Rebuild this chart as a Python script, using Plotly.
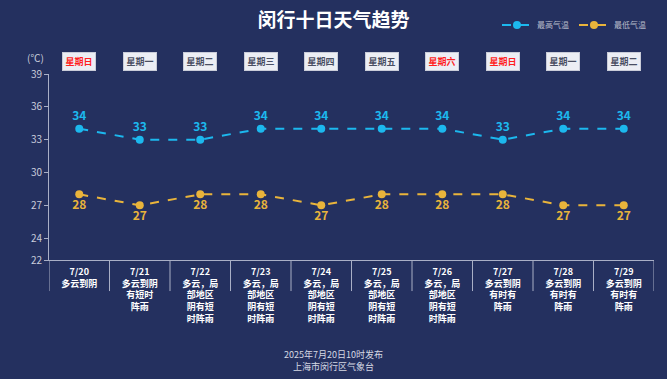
import plotly.graph_objects as go

dates = ["7/20", "7/21", "7/22", "7/23", "7/24", "7/25", "7/26", "7/27", "7/28", "7/29"]
weekdays = ["星期日", "星期一", "星期二", "星期三", "星期四", "星期五", "星期六", "星期日", "星期一", "星期二"]
weather_lines = [
    ["多云到阴"],
    ["多云到阴", "有短时", "阵雨"],
    ["多云，局", "部地区", "阴有短", "时阵雨"],
    ["多云，局", "部地区", "阴有短", "时阵雨"],
    ["多云，局", "部地区", "阴有短", "时阵雨"],
    ["多云，局", "部地区", "阴有短", "时阵雨"],
    ["多云，局", "部地区", "阴有短", "时阵雨"],
    ["多云到阴", "有时有", "阵雨"],
    ["多云到阴", "有时有", "阵雨"],
    ["多云到阴", "有时有", "阵雨"],
]
high = [34, 33, 33, 34, 34, 34, 34, 33, 34, 34]
low = [28, 27, 28, 28, 27, 28, 28, 28, 27, 27]
y_ticks = [22, 24, 27, 30, 33, 36, 39]

BG = "#24305f"
BLUE = "#1cb8ee"
GOLD = "#e9b43b"
AXIS = "#a9afc6"

xs = list(range(len(dates)))
ticktext = ["<b>" + "<br>".join([d] + w) + "</b>" for d, w in zip(dates, weather_lines)]

fig = go.Figure()
fig.add_trace(go.Scatter(
    x=xs, y=high, mode="lines+markers+text", name="最高气温",
    line=dict(color=BLUE, width=2, dash="dash"),
    marker=dict(color=BLUE, size=8),
    text=[f"<b>{v}</b>" for v in high], textposition="top center",
    textfont=dict(color=BLUE, size=12),
))
fig.add_trace(go.Scatter(
    x=xs, y=low, mode="lines+markers+text", name="最低气温",
    line=dict(color=GOLD, width=2, dash="dash"),
    marker=dict(color=GOLD, size=8),
    text=[f"<b>{v}</b>" for v in low], textposition="bottom center",
    textfont=dict(color=GOLD, size=12),
))

# category boundary ticks
for b in [i - 0.5 for i in range(len(dates) + 1)]:
    fig.add_shape(type="line", xref="x", yref="paper", x0=b, x1=b, y0=0, y1=-0.167,
                  line=dict(color=AXIS, width=1))

# weekday boxes
for i, wd in enumerate(weekdays):
    red = wd in ("星期日", "星期六")
    fig.add_annotation(
        x=i, xref="x", y=1.065, yref="paper", yanchor="middle",
        text=f"<b>{wd}</b>", showarrow=False, width=30, height=15,
        font=dict(size=9, color="#ff1e1e" if red else "#4a4f63"),
        bgcolor="#eceef4", bordercolor="#c9ccd8", borderwidth=1, borderpad=1,
    )

fig.add_annotation(x=-0.005, xref="paper", y=1.091, yref="paper", text="(℃)", showarrow=False,
                   xanchor="right", yanchor="middle", font=dict(size=10, color="#c9cddb"))

fig.add_annotation(x=0.47, xref="paper", y=-0.539, yref="paper",
                   text="2025年7月20日10时发布<br>上海市闵行区气象台", showarrow=False,
                   xanchor="center", yanchor="middle", font=dict(size=9, color="#d5d8e3"))

fig.update_layout(
    width=667, height=379,
    paper_bgcolor=BG, plot_bgcolor=BG,
    margin=dict(l=49, r=13, t=74, b=119, autoexpand=False),
    font=dict(family="Noto Sans CJK SC, sans-serif", color="#ffffff"),
    title=dict(text="<b>闵行十日天气趋势</b>", x=0.5, xanchor="center", y=0.947, yanchor="middle",
               font=dict(size=19, color="#ffffff")),
    showlegend=True,
    legend=dict(orientation="h", x=0.995, xanchor="right", y=1.263, yanchor="middle",
                font=dict(size=8, color="#b9bdcc"), bgcolor="rgba(0,0,0,0)",
                itemwidth=30, tracegroupgap=0),
    xaxis=dict(range=[-0.5, len(dates) - 0.5], tickvals=xs, ticktext=ticktext,
               showgrid=False, zeroline=False, showline=True, linecolor=AXIS, linewidth=1,
               ticks="", ticklabelstandoff=3, automargin=False,
               tickfont=dict(size=9, color="#ffffff"), fixedrange=True),
    yaxis=dict(range=[22, 39], tickvals=y_ticks, showgrid=False, zeroline=False,
               showline=True, linecolor=AXIS, linewidth=1, ticks="outside", ticklen=4,
               tickcolor=AXIS, automargin=False, tickfont=dict(size=10, color="#c9cddb")),
)

fig.write_html("out.html", config={"displayModeBar": False},
               post_script="document.body.style.margin='0';document.body.style.padding='0';")
